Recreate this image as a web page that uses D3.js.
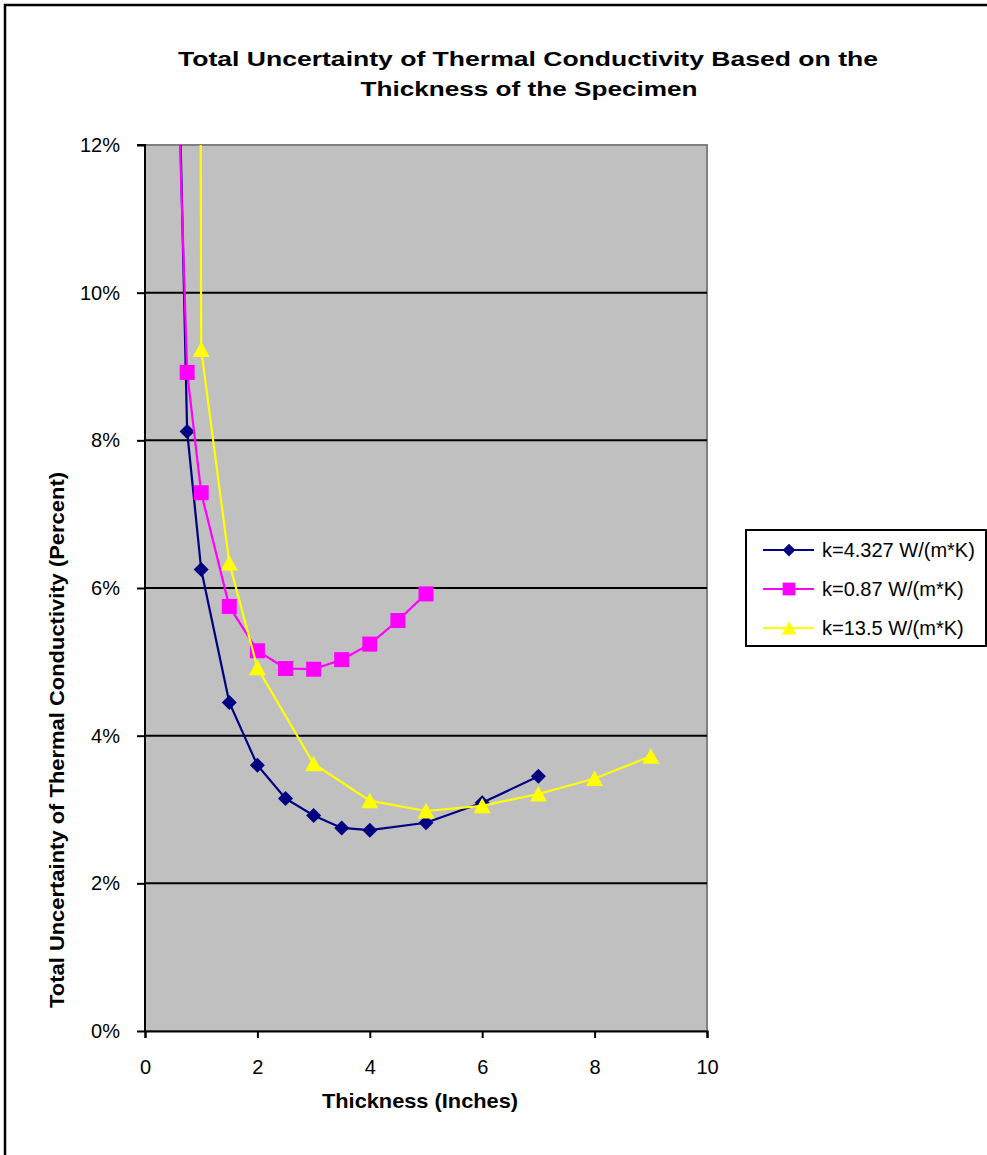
<!DOCTYPE html>
<html>
<head>
<meta charset="utf-8">
<script src="https://cdn.jsdelivr.net/npm/d3@7"></script>
<style>
  body { margin: 0; background: #fff; }
  svg { display: block; font-family: Arial, "Liberation Sans", sans-serif; }
</style>
</head>
<body>
<div id="chart"></div>
<script>
// Data (thickness in inches, uncertainty in percent)
const seriesNames = ['k=4.327 W/(m*K)', 'k=0.87 W/(m*K)', 'k=13.5 W/(m*K)'];
const thicknessA = [0.5, 0.75, 1, 1.5, 2, 2.5, 3, 3.5, 4, 5, 6, 7];
const uncertA = [16.5, 8.12, 6.25, 4.45, 3.60, 3.15, 2.92, 2.75, 2.72, 2.82, 3.09, 3.45];
const thicknessB = [0.5, 0.75, 1, 1.5, 2, 2.5, 3, 3.5, 4, 4.5, 5];
const uncertB = [15.0, 8.92, 7.29, 5.75, 5.15, 4.91, 4.90, 5.03, 5.24, 5.56, 5.92];
const thicknessC = [0.5, 1, 1.5, 2, 3, 4, 5, 6, 7, 8, 9];
const uncertC = [160, 9.23, 6.34, 4.92, 3.62, 3.12, 2.98, 3.05, 3.21, 3.42, 3.72];
const xTicks = [0, 2, 4, 6, 8, 10];
const yTicks = [0, 2, 4, 6, 8, 10, 12];

// Layout
const width = 987;
const height = 1155;
const plot = {left: 145, top: 145, right: 707, bottom: 1031};

// Colors
const plotGray = '#c0c0c0';
const colors = ['#000080', '#ff00ff', '#ffff00'];
const markers = ['diamond', 'square', 'triangle'];

const series = [
  {name: seriesNames[0], xs: thicknessA, ys: uncertA},
  {name: seriesNames[1], xs: thicknessB, ys: uncertB},
  {name: seriesNames[2], xs: thicknessC, ys: uncertC}
].map((s, i) => ({
  name: s.name,
  color: colors[i],
  marker: markers[i],
  points: s.xs.map((x, j) => ({x: x, y: s.ys[j]}))
}));

// Scales
const x = d3.scaleLinear().domain([0, 10]).range([plot.left, plot.right]);
const y = d3.scaleLinear().domain([0, 12]).range([plot.bottom, plot.top]);

const svg = d3.select('#chart').append('svg')
  .attr('width', width)
  .attr('height', height);

// Outer chart border
svg.append('rect')
  .attr('x', 5)
  .attr('y', 5)
  .attr('width', 985)
  .attr('height', 1170)
  .attr('fill', '#fff')
  .attr('stroke', '#000')
  .attr('stroke-width', 2.5);

// Plot area
svg.append('rect')
  .attr('x', plot.left)
  .attr('y', plot.top)
  .attr('width', plot.right - plot.left)
  .attr('height', plot.bottom - plot.top)
  .attr('fill', plotGray)
  .attr('stroke', '#808080')
  .attr('stroke-width', 2);

svg.append('clipPath')
  .attr('id', 'plot-clip')
  .append('rect')
  .attr('x', plot.left)
  .attr('y', plot.top)
  .attr('width', plot.right - plot.left)
  .attr('height', plot.bottom - plot.top);

// Gridlines
svg.append('g')
  .attr('class', 'grid')
  .selectAll('line')
  .data(yTicks.filter(d => d > 0 && d < 12))
  .join('line')
  .attr('x1', plot.left)
  .attr('x2', plot.right)
  .attr('y1', d => y(d))
  .attr('y2', d => y(d))
  .attr('stroke', '#000')
  .attr('stroke-width', 2);

// Axes
const yAxis = svg.append('g')
  .attr('transform', `translate(${plot.left},0)`)
  .call(d3.axisLeft(y).tickValues(yTicks).tickFormat(d => d + '%').tickSize(8).tickPadding(17));
const xAxis = svg.append('g')
  .attr('transform', `translate(0,${plot.bottom})`)
  .call(d3.axisBottom(x).tickValues(xTicks).tickSize(7).tickPadding(22));
[xAxis, yAxis].forEach(ax => {
  ax.select('.domain').attr('stroke', '#000').attr('stroke-width', 2);
  ax.selectAll('.tick line').attr('stroke', '#000').attr('stroke-width', 2);
  ax.selectAll('.tick text')
    .attr('fill', '#000')
    .style('font-size', '20px')
    .style('font-family', 'Arial, "Liberation Sans", sans-serif');
});
yAxis.select('.domain').attr('d', `M-8,${plot.top}H0V${plot.bottom}`);

// Marker shapes
function markerPath(type) {
  if (type === 'diamond') return 'M0,-7.5L7.5,0L0,7.5L-7.5,0Z';
  if (type === 'square') return 'M-7.5,-7.5H7.5V7.5H-7.5Z';
  return 'M0,-8L8.5,7.5L-8.5,7.5Z';
}

// Lines and markers
const line = d3.line().x(d => x(d.x)).y(d => y(d.y));
const seriesGroup = svg.append('g')
  .attr('clip-path', 'url(#plot-clip)');
series.forEach(s => {
  const g = seriesGroup.append('g');
  g.append('path')
    .attr('d', line(s.points))
    .attr('fill', 'none')
    .attr('stroke', s.color)
    .attr('stroke-width', 2.2);
  g.selectAll('path.marker')
    .data(s.points)
    .join('path')
    .attr('class', 'marker')
    .attr('d', markerPath(s.marker))
    .attr('transform', d => `translate(${x(d.x)},${y(d.y)})`)
    .attr('fill', s.color);
});

// Title
const title = svg.append('g')
  .attr('font-weight', 'bold')
  .attr('font-size', '21px')
  .attr('text-anchor', 'middle');
title.append('text')
  .attr('x', 528)
  .attr('y', 66)
  .attr('textLength', 700)
  .attr('lengthAdjust', 'spacingAndGlyphs')
  .text('Total Uncertainty  of Thermal Conductivity  Based  on the');
title.append('text')
  .attr('x', 529)
  .attr('y', 96)
  .attr('textLength', 337)
  .attr('lengthAdjust', 'spacingAndGlyphs')
  .text('Thickness of the Specimen');

// Axis titles
svg.append('text')
  .attr('x', 420)
  .attr('y', 1108)
  .attr('text-anchor', 'middle')
  .attr('font-weight', 'bold')
  .attr('font-size', '21px')
  .attr('textLength', 196)
  .attr('lengthAdjust', 'spacingAndGlyphs')
  .text('Thickness (Inches)');

svg.append('text')
  .attr('transform', 'translate(64,740) rotate(-90)')
  .attr('text-anchor', 'middle')
  .attr('font-weight', 'bold')
  .attr('font-size', '21px')
  .attr('textLength', 536)
  .attr('lengthAdjust', 'spacingAndGlyphs')
  .text('Total Uncertainty of Thermal Conductivity  (Percent)');

// Legend
const legend = svg.append('g')
  .attr('transform', 'translate(746,530)');
legend.append('rect')
  .attr('width', 240)
  .attr('height', 116)
  .attr('fill', '#fff')
  .attr('stroke', '#000')
  .attr('stroke-width', 2);
const legendItems = legend.selectAll('g.item')
  .data(series)
  .join('g')
  .attr('class', 'item')
  .attr('transform', (d, i) => `translate(0,${20 + i * 39})`);
legendItems.append('line')
  .attr('x1', 17)
  .attr('x2', 68)
  .attr('stroke', d => d.color)
  .attr('stroke-width', 2.2);
legendItems.append('path')
  .attr('d', d => markerPath(d.marker))
  .attr('transform', 'translate(43,0) scale(0.85)')
  .attr('fill', d => d.color);
legendItems.append('text')
  .attr('x', 76)
  .attr('dy', '0.35em')
  .attr('font-size', '20px')
  .text(d => d.name);
</script>
</body>
</html>
